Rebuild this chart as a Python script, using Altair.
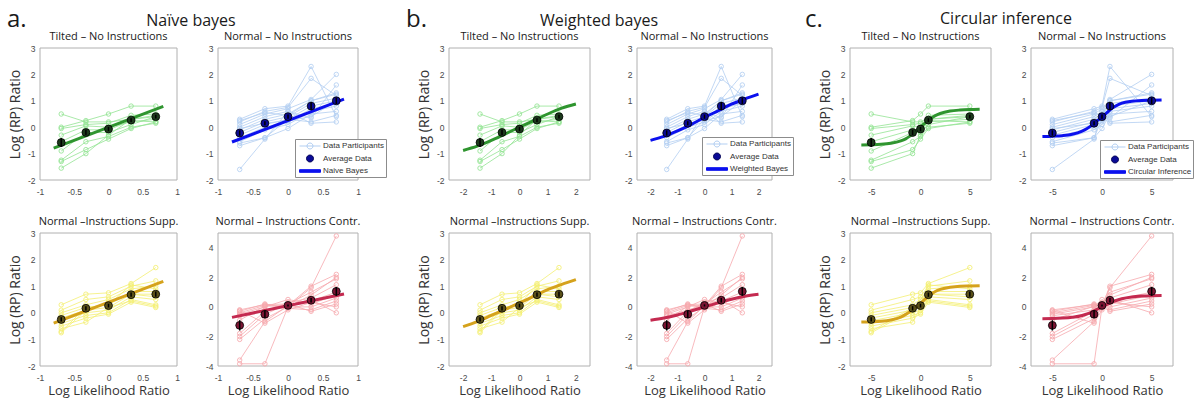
import altair as alt
import pandas as pd

# ---------------- data ----------------
X_NAIVE = [-0.69, -0.33, 0.0, 0.33, 0.69]
X_WEIGHTED = [-1.4, -0.62, 0.0, 0.62, 1.4]
X_CIRCULAR = [-5.0, -0.8, 0.0, 0.8, 5.0]

TILTED = [
    [0.5, 0.2, 0.2, 0.3, 0.45],
    [0.0, 0.25, 0.5, 0.8, 0.8],
    [-0.05, 0.1, 0.15, 0.45, 0.5],
    [-0.3, 0.05, 0.0, 0.2, 0.3],
    [-0.55, -0.1, -0.1, 0.25, 0.2],
    [-0.9, -0.2, -0.2, 0.1, 0.4],
    [-1.25, -0.55, -0.35, 0.0, 0.15],
    [-1.3, -0.85, -0.45, -0.05, 0.2],
    [-1.55, -1.0, -0.3, 0.3, 0.4],
]
NORMAL = [
    [0.3, 0.7, 0.8, 2.3, 0.4],
    [0.2, 0.6, 0.75, 1.85, 1.2],
    [0.1, 0.5, 0.7, 1.05, 2.0],
    [0.0, 0.4, 0.6, 0.35, 1.6],
    [-0.1, 0.3, 0.5, 1.0, 1.3],
    [-0.2, 0.2, 0.4, 0.9, 1.1],
    [-0.3, 0.1, 0.3, 0.8, 1.0],
    [-0.4, 0.0, 0.2, 0.7, 0.9],
    [-0.55, -0.1, 0.1, 0.6, 0.8],
    [-0.6, -0.4, -0.05, 0.5, 0.6],
    [-0.7, -0.4, 0.3, 0.2, 0.45],
    [-1.6, -0.45, 0.6, 0.15, 0.2],
    [0.25, 0.55, 0.45, 1.0, 1.25],
    [-0.05, 0.15, 0.25, 0.4, 1.0],
]
SUPP = [
    [0.3, 0.7, 0.75, 1.1, 1.7],
    [0.1, 0.5, 0.6, 1.0, 1.2],
    [0.0, 0.3, 0.5, 0.9, 1.0],
    [-0.1, 0.2, 0.3, 0.8, 0.8],
    [-0.2, 0.1, 0.2, 0.7, 0.7],
    [-0.3, 0.0, 0.1, 0.6, 0.5],
    [-0.4, -0.1, 0.0, 0.5, 0.3],
    [-0.5, -0.2, -0.05, 0.4, 0.2],
    [-0.6, -0.35, 0.2, 0.45, 0.25],
    [-0.7, 0.2, 0.3, 1.05, 0.9],
    [-0.75, 0.1, 0.4, 0.7, 0.6],
]
CONTR = [
    [-3.85, -3.85, 0.0, 1.3, 4.8],
    [-3.6, -1.0, 0.1, 1.4, 2.2],
    [-2.2, -0.8, 0.0, 0.8, 2.0],
    [-2.0, -0.5, 0.2, 1.0, 1.9],
    [-1.8, -0.3, 0.3, 0.6, 1.5],
    [-0.6, -0.2, 0.1, 0.4, 1.0],
    [-0.5, 0.0, 0.5, 0.2, 0.8],
    [-0.4, 0.1, 0.0, 0.0, 0.6],
    [-0.3, 0.2, -0.1, -0.2, 0.4],
    [-0.2, 0.15, 0.2, -0.3, 0.2],
    [-0.25, -1.1, -0.2, 0.3, 0.0],
    [-0.9, 0.05, 0.1, 0.5, -0.4],
]

TILTED_MEAN = [-0.58, -0.2, -0.07, 0.27, 0.4]
TILTED_SEM = [0.17, 0.1, 0.08, 0.07, 0.07]
NORMAL_MEAN = [-0.22, 0.15, 0.4, 0.8, 1.0]
NORMAL_SEM = [0.1, 0.08, 0.08, 0.15, 0.12]
SUPP_MEAN = [-0.25, 0.17, 0.27, 0.68, 0.7]
SUPP_SEM = [0.08, 0.08, 0.07, 0.08, 0.1]
CONTR_MEAN = [-1.25, -0.5, 0.1, 0.45, 1.05]
CONTR_SEM = [0.35, 0.25, 0.07, 0.15, 0.3]

NB_X = [-0.8, 0.8]
NB_TILTED = [-0.79, 0.79]
NB_NORMAL = [-0.56, 1.06]
NB_SUPP = [-0.39, 1.18]
NB_CONTR = [-0.71, 0.87]

WB_X = [-2.0, -1.5, -1.0, -0.5, 0.0, 0.5, 1.0, 1.5, 2.0]
WB_TILTED = [-0.88, -0.72, -0.5, -0.25, 0.0, 0.25, 0.5, 0.72, 0.88]
WB_NORMAL = [-0.5, -0.35, -0.14, 0.1, 0.37, 0.62, 0.87, 1.07, 1.25]
WB_SUPP = [-0.52, -0.33, -0.1, 0.13, 0.37, 0.62, 0.87, 1.07, 1.25]
WB_CONTR = [-0.9, -0.75, -0.55, -0.28, 0.0, 0.27, 0.52, 0.72, 0.85]

CI_X = [-6, -5, -4, -3, -2, -1.5, -1, -0.5, 0, 0.5, 1, 1.5, 2, 3, 4, 5, 6]
CI_TILTED = [-0.67, -0.665, -0.65, -0.61, -0.52, -0.44, -0.32, -0.17, 0.0,
             0.17, 0.32, 0.44, 0.52, 0.61, 0.65, 0.67, 0.68]
CI_NORMAL = [-0.35, -0.34, -0.32, -0.27, -0.15, -0.05, 0.08, 0.24, 0.38,
             0.55, 0.72, 0.83, 0.91, 0.98, 1.01, 1.02, 1.03]
CI_SUPP = [-0.35, -0.34, -0.32, -0.27, -0.16, -0.06, 0.07, 0.22, 0.36,
           0.52, 0.68, 0.8, 0.88, 0.96, 1.0, 1.01, 1.02]
CI_CONTR = [-0.8, -0.79, -0.76, -0.7, -0.58, -0.47, -0.33, -0.17, 0.0,
            0.17, 0.32, 0.45, 0.55, 0.67, 0.73, 0.76, 0.77]

PANEL_TITLES = ["Tilted \u2013 No Instructions", "Normal \u2013 No Instructions",
                "Normal \u2013Instructions Supp.", "Normal \u2013 Instructions Contr."]
GROUP_TITLES = ["Na\u00efve bayes", "Weighted bayes", "Circular inference"]
GROUP_LETTERS = ["a.", "b.", "c."]
MODEL_NAMES = ["Naive Bayes", "Weighted Bayes", "Circular Inference"]
LEGEND_ENTRIES = ["Data Participants", "Average Data"]

# ---------------- styles & layout ----------------
LIGHT = ["#94e494", "#b3cff2", "#f4ef74", "#f6a9ae"]
MODEL_COL = ["#2f952f", "#0b10ee", "#d5a21c", "#c42a50"]
DOT_COL = ["#1c3a1c", "#0a0a96", "#5a5018", "#7a1432"]
FRAME_COL = "#b0b0b0"

LABEL_FONT = "Liberation Sans"
TEXT_FONT = "Open Sans"
LABEL_EXPR = "replace(format(datum.value, '~g'), '\u2212', '-')"

SYM_PART = "M-2.1,0H2.1M0.6,0A0.6,0.6 0 1 1 -0.6,0A0.6,0.6 0 1 1 0.6,0"
SYM_AVG = "M0.7,0A0.7,0.7 0 1 1 -0.7,0A0.7,0.7 0 1 1 0.7,0Z"
SYM_LINE = "M-2.1,-0.26H2.1V0.26H-2.1Z"

# plot-area widths of the six columns and the gap that follows each
PLOT_W = [137, 140, 141, 135, 141, 142]
GAP_AFTER = [41, 91, 47, 78, 40, 0]
ROW_H = [132, 133]
ROW_GAP = 53


def text_layer(txt, x, y, size, align):
    return alt.Chart(pd.DataFrame({"t": [txt]})).mark_text(
        align=align, baseline="alphabetic", font=TEXT_FONT, fontSize=size,
        color="#1a1a1a").encode(text="t:N", x=alt.value(x), y=alt.value(y))


def panel(xs, parts, mean, sem, mx, my, ci, xdom, xticks, ydom, yticks,
          pw, gap, height, ptitle, ytitle, xtitle, legend_pos=None, model_name=None,
          annot=None):
    prow = []
    for pid, vals in enumerate(parts):
        for x, y in zip(xs, vals):
            prow.append({"pid": pid, "x": x, "y": y})
    dfp = pd.DataFrame(prow)
    dfa = pd.DataFrame({"x": xs, "y": mean,
                        "lo": [m - s for m, s in zip(mean, sem)],
                        "hi": [m + s for m, s in zip(mean, sem)]})
    dfm = pd.DataFrame({"x": mx, "y": my})
    dff = pd.DataFrame({"x": [xdom[0]], "x2": [xdom[1]], "y": [ydom[0]], "y2": [ydom[1]]})

    xax = alt.Axis(values=xticks, title=xtitle, labelFlush=False,
                   labelOverlap=False, labelPadding=7, labelExpr=LABEL_EXPR,
                   titlePadding=3, titleX=pw / 2)
    yax = alt.Axis(values=yticks, title=ytitle, labelFlush=False,
                   labelOverlap=False, labelPadding=5, labelExpr=LABEL_EXPR,
                   titlePadding=5)
    xs_ = alt.Scale(domain=xdom, range=[0, pw], nice=False, zero=False)
    ys_ = alt.Scale(domain=ydom, nice=False, zero=False)
    X = alt.X("x:Q", scale=xs_, axis=xax)
    Y = alt.Y("y:Q", scale=ys_, axis=yax)

    frame = alt.Chart(dff).mark_rect(fill="transparent", stroke=FRAME_COL, strokeWidth=1).encode(
        x=X, x2="x2:Q", y=Y, y2="y2:Q")
    lines = alt.Chart(dfp).mark_line(color=LIGHT[ci], strokeWidth=0.9, opacity=0.9).encode(
        x=X, y=Y, detail="pid:N")
    pts = alt.Chart(dfp).mark_point(color=LIGHT[ci], filled=False, size=20,
                                    strokeWidth=0.9, opacity=0.95).encode(x=X, y=Y)
    model = alt.Chart(dfm).mark_line(color=MODEL_COL[ci], strokeWidth=3,
                                     interpolate="monotone").encode(x=X, y=Y)
    avg = alt.Chart(dfa).mark_circle(size=62, fill=DOT_COL[ci], stroke="black",
                                     strokeWidth=0.8, opacity=1).encode(x=X, y=Y)
    err = alt.Chart(dfa).mark_rule(color="black", strokeWidth=1.5).encode(
        x=X, y=alt.Y("lo:Q", scale=ys_, axis=yax), y2="hi:Q")
    layers = [frame, lines, pts, model, avg, err,
              text_layer(ptitle, pw / 2, -8.5, 11, "center")]

    if legend_pos is not None:
        entries = LEGEND_ENTRIES + [model_name]
        leg = alt.Legend(orient="none", legendX=legend_pos[0], legendY=legend_pos[1],
                         title=None, padding=1.5, symbolSize=100, symbolStrokeWidth=1,
                         symbolOffset=8, labelOffset=7.5, rowPadding=1.5,
                         labelFont=LABEL_FONT, labelFontSize=8, labelColor="#333333",
                         strokeColor="#8c8c8c", fillColor="white")
        dfl = pd.DataFrame({"entry": entries})
        legend_layer = alt.Chart(dfl).transform_filter("false").mark_point(opacity=1).encode(
            shape=alt.Shape("entry:N", legend=leg,
                            scale=alt.Scale(domain=entries, range=[SYM_PART, SYM_AVG, SYM_LINE])),
            fill=alt.Fill("entry:N", legend=leg,
                          scale=alt.Scale(domain=entries, range=["transparent", "#0a0a96", MODEL_COL[1]])),
            stroke=alt.Stroke("entry:N", legend=leg,
                              scale=alt.Scale(domain=entries, range=[LIGHT[1], "#000055", MODEL_COL[1]])),
        )
        layers.append(legend_layer)

    if annot is not None:
        letter, gtitle, lx, tx, ty = annot
        layers += [text_layer(letter, lx, -21, 24, "left"),
                   text_layer(gtitle, tx, ty, 16, "center")]

    return alt.layer(*layers).properties(width=pw + gap, height=height)


GROUPS = [
    (X_NAIVE, NB_X, [NB_TILTED, NB_NORMAL, NB_SUPP, NB_CONTR], [-1, 1],
     [-1, -0.5, 0, 0.5, 1], (77, 91), -33, 151, -22),
    (X_WEIGHTED, WB_X, [WB_TILTED, WB_NORMAL, WB_SUPP, WB_CONTR], [-2.5, 2.5],
     [-2, -1, 0, 1, 2], (65, 89), -43, 150, -22),
    (X_CIRCULAR, CI_X, [CI_TILTED, CI_NORMAL, CI_SUPP, CI_CONTR], [-7.15, 7.15],
     [-5, 0, 5], (69, 92), -45, 156, -24),
]
CONDS = [(TILTED, TILTED_MEAN, TILTED_SEM), (NORMAL, NORMAL_MEAN, NORMAL_SEM),
         (SUPP, SUPP_MEAN, SUPP_SEM), (CONTR, CONTR_MEAN, CONTR_SEM)]
YDOMS = [[-2, 3], [-2, 3], [-2, 3], [-4, 5]]
YTICKS = [[-2, -1, 0, 1, 2, 3]] * 3 + [[-4, -2, 0, 2, 4]]

cells = []
for row in range(2):
    for gi, (xs, mx, models, xdom, xticks, lpos, lx, tx, ty) in enumerate(GROUPS):
        for col in range(2):
            ci = row * 2 + col
            k = gi * 2 + col
            parts, mean, sem = CONDS[ci]
            p = panel(xs, parts, mean, sem, mx, models[ci], ci, xdom, xticks,
                      YDOMS[ci], YTICKS[ci], PLOT_W[k], GAP_AFTER[k], ROW_H[row],
                      PANEL_TITLES[ci],
                      "Log (RP) Ratio" if col == 0 else None,
                      "Log Likelihood Ratio" if row == 1 else None,
                      legend_pos=lpos if ci == 1 else None,
                      model_name=MODEL_NAMES[gi],
                      annot=(GROUP_LETTERS[gi], GROUP_TITLES[gi], lx, tx, ty) if ci == 0 else None)
            cells.append(p)

chart = alt.concat(
    *cells, columns=6, spacing=alt.RowColnumber(row=ROW_GAP, column=0),
    bounds="flush", align="each",
).resolve_scale(
    shape="independent", fill="independent", stroke="independent"
).properties(
    padding={"left": 7, "top": 8, "right": 0, "bottom": 0}
).configure_view(strokeWidth=0).configure_axis(
    domain=False, ticks=False, grid=False,
    labelFont=LABEL_FONT, labelFontSize=8.5, labelColor="#4a4a4a",
    titleFont=TEXT_FONT, titleFontSize=14, titleFontWeight="normal", titleColor="#333333",
).configure_axisX(titleFontSize=13)

chart.save("out.html", embed_options={"renderer": "svg", "actions": False})
